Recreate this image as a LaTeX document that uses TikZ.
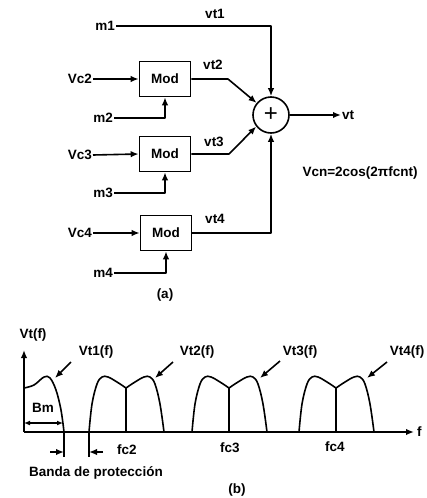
\documentclass[tikz,border=0pt]{standalone}
\usepackage{fontspec}
\setmainfont{Liberation Sans}
\usetikzlibrary{arrows.meta}
\begin{document}
\begin{tikzpicture}[x=1pt,y=-1pt,
  every node/.style={font=\fontsize{13.5}{15}\selectfont\bfseries, inner sep=1pt},
  ln/.style={line width=1.6pt, line join=round},
  arr/.style={ln, -{Latex[length=8pt,width=6.5pt]}},
  darr/.style={ln, {Latex[length=6pt,width=5pt]}-{Latex[length=6pt,width=5pt]}},
  modbox/.style={draw, line width=1.6pt, minimum width=51pt, minimum height=35pt, inner sep=0pt},
  sumc/.style={draw, circle, line width=1.6pt, minimum size=36pt, inner sep=0pt},
  lobe/.pic={
    \draw[ln] plot[smooth, tension=0.6] coordinates {(-37,0) (-34,-28) (-29,-48) (-24,-55) (-18,-55) (-9,-50) (0,-44)};
    \draw[ln] plot[smooth, tension=0.6] coordinates {(0,-44) (9,-50) (18,-55) (24,-55) (29,-48) (34,-28) (38,0)};
    \draw[ln] (0,0) -- (0,-44);
  }]
\useasboundingbox (0,0) rectangle (427,498);

% ---------- (a) ----------
\node[modbox] (mod2) at (165,79) {Mod};
\node[modbox] (mod3) at (165,154) {Mod};
\node[modbox] (mod4) at (166,233) {Mod};
\node[sumc] (sum) at (271,115) {\fontsize{24}{24}\selectfont\mdseries +};

\node[anchor=east] (m1) at (116,26) {m1};
\node[anchor=east] (vc2) at (93,79) {Vc2};
\node[anchor=east] (m2) at (114,118) {m2};
\node[anchor=east] (vc3) at (93,155) {Vc3};
\node[anchor=east] (m3) at (114,193) {m3};
\node[anchor=east] (vc4) at (93,233) {Vc4};
\node[anchor=east] (m4) at (114,273) {m4};

\draw[arr] (m1.east) -| (sum.north);
\draw[arr] (vc2.east) -- (mod2.west);
\draw[arr] (m2.east) -| (mod2.south);
\draw[arr] (vc3.east) -- (mod3.west);
\draw[arr] (m3.east) -| (mod3.south);
\draw[arr] (vc4.east) -- (mod4.west);
\draw[arr] (m4.east) -| (mod4.south);

\draw[arr] (mod2.east) -- (228,79) -- (sum.140);
\draw[arr] (mod3.east) -- (229,154) -- (sum.218);
\draw[arr] (mod4.east) -| (sum.south);

\node (vt1) at (215,14) {vt1};
\node (vt2) at (213,65) {vt2};
\node (vt3) at (214,142) {vt3};
\node (vt4) at (215,219) {vt4};

\node[anchor=west] (vt) at (341,115) {vt};
\draw[arr] (sum.east) -- (vt.west);
\node (vcn) at (360,173) {Vcn=2cos(2πfcnt)};
\node (la) at (165,295) {(a)};

% ---------- (b) ----------
\coordinate (O) at (24,432);
\coordinate (ytop) at (24,350);
\coordinate (xend) at (414,432);
\draw[arr] (O) -- (ytop);
\draw[arr] (O) -- (xend);
\node[anchor=west] (fl) at (416,432) {f};
\node (vtf) at (33,335) {Vt(f)};

\draw[ln] plot[smooth, tension=0.6] coordinates {(24,388) (34,385) (44,377) (50,378) (56,390) (61,410) (64,432)};
\pic at (126,432) {lobe};
\pic at (229,432) {lobe};
\pic at (336,432) {lobe};

\node (l1) at (96,352) {Vt1(f)};
\node (l2) at (197,352) {Vt2(f)};
\node (l3) at (300,352) {Vt3(f)};
\node (l4) at (407,352) {Vt4(f)};
\coordinate (t1) at (55,378);
\coordinate (t2) at (155,378);
\coordinate (t3) at (260,378);
\coordinate (t4) at (367,378);
\draw[arr] (71,362) -- (t1);
\draw[arr] (173,362) -- (t2);
\draw[arr] (280,361) -- (t3);
\draw[arr] (387,362) -- (t4);

\coordinate (bmL) at (24,423);
\coordinate (bmR) at (63,423);
\draw[darr] (bmL) -- (bmR);
\node (bm) at (43,408) {Bm};

\coordinate (g1t) at (64,432);
\coordinate (g1b) at (64,457);
\coordinate (g2t) at (89,432);
\coordinate (g2b) at (89,457);
\draw[ln] (g1t) -- (g1b);
\draw[ln] (g2t) -- (g2b);
\coordinate (g1a) at (64,452);
\coordinate (g2a) at (89,452);
\draw[arr] (50,452) -- (g1a);
\draw[arr] (103,452) -- (g2a);

\node (fc2) at (127,450) {fc2};
\node (fc3) at (230,448) {fc3};
\node (fc4) at (335,447) {fc4};
\node (banda) at (96,473) {Banda de protección};
\node (lb) at (237,490) {(b)};
\end{tikzpicture}
\end{document}
